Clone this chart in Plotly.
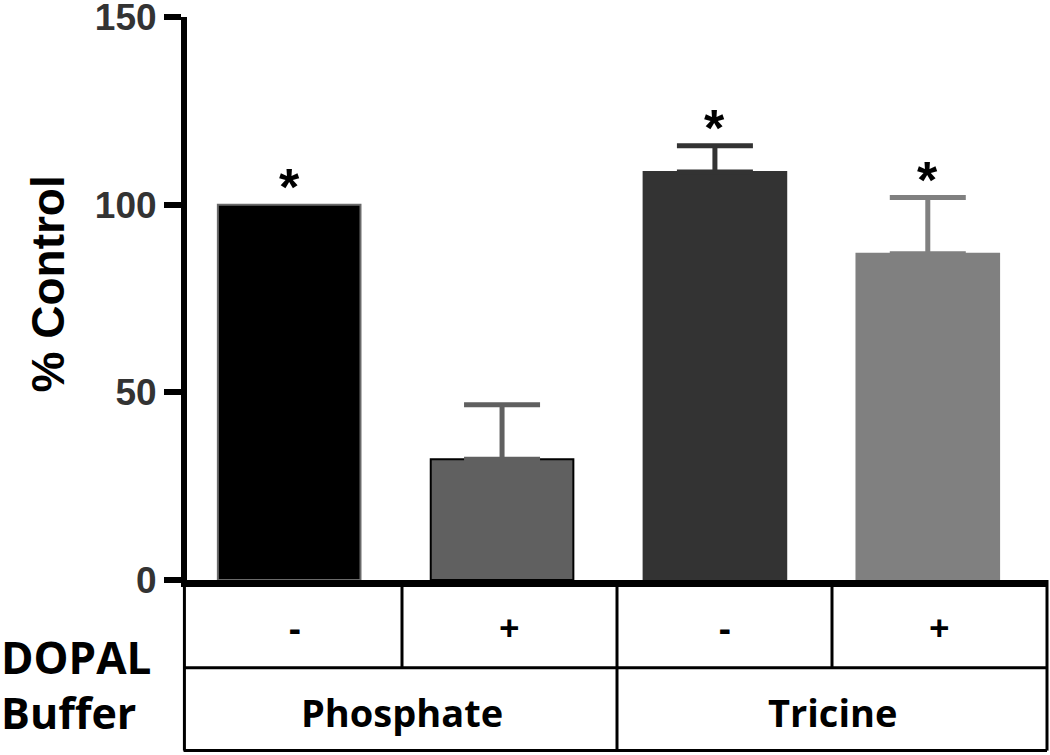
import plotly.graph_objects as go

# ---- data ----
conditions = ["Phosphate -", "Phosphate +", "Tricine -", "Tricine +"]
values = [100, 32.2, 108.7, 86.9]
errors = [0, 14.5, 7.0, 15.0]
significant = [True, False, True, True]
dopal_labels = ["-", "+", "-", "+"]
buffer_labels = ["Phosphate", "Tricine"]
y_ticks = [0, 50, 100, 150]

fill_colors = ["#000000", "#606060", "#333333", "#808080"]
line_colors = ["#6a6a6a", "#000000", "#333333", "#808080"]

AX = "Liberation Sans, Arial, sans-serif"
TB = "Open Sans, sans-serif"

fig = go.Figure()
for i, (c, v, e) in enumerate(zip(conditions, values, errors)):
    fig.add_trace(go.Bar(
        x=[i], y=[v], name=c, width=0.67,
        marker=dict(color=fill_colors[i], line=dict(color=line_colors[i], width=2)),
        error_y=dict(type="data", array=[e], arrayminus=[0], symmetric=False,
                     color=fill_colors[i] if i != 0 else "#606060",
                     thickness=5, width=38, visible=e > 0),
        showlegend=False,
    ))

annotations = []
for i, (v, e, s) in enumerate(zip(values, errors, significant)):
    if s:
        annotations.append(dict(x=i, y=v + e, xref="x", yref="y", text="<b>*</b>",
                                showarrow=False, yanchor="bottom", yshift=-13,
                                font=dict(family=AX, size=52, color="black")))

# y-axis title
annotations.append(dict(x=-0.1616, y=0.525, xref="paper", yref="paper",
                        xanchor="center", yanchor="middle", textangle=-90,
                        text="<b>% Control</b>", showarrow=False,
                        font=dict(family=AX, size=46, color="black")))

# table text
cell_w = 1 / len(dopal_labels)
row1_y = -0.085
row2_y = -0.234
for i, lab in enumerate(dopal_labels):
    annotations.append(dict(x=(i + 0.5) * cell_w, y=row1_y, xref="paper", yref="paper",
                            xanchor="center", yanchor="middle",
                            text="<b>%s</b>" % lab, showarrow=False,
                            font=dict(family=TB, size=36, color="black")))
for j, lab in enumerate(buffer_labels):
    annotations.append(dict(x=(j + 0.5) * 0.5, y=row2_y, xref="paper", yref="paper",
                            xanchor="center", yanchor="middle",
                            text="<b>%s</b>" % lab, showarrow=False,
                            font=dict(family=TB, size=38, color="black")))
annotations.append(dict(x=-0.219, y=-0.1365, xref="paper", yref="paper",
                        xanchor="left", yanchor="middle",
                        text="<b>DOPAL</b>", showarrow=False,
                        font=dict(family=TB, size=44, color="black")))
annotations.append(dict(x=-0.219, y=-0.236, xref="paper", yref="paper",
                        xanchor="left", yanchor="middle",
                        text="<b>Buffer</b>", showarrow=False,
                        font=dict(family=TB, size=43, color="black")))

# table lines
y_mid = -0.156
y_bot = -0.303
shapes = []
lw = 3
shapes.append(dict(type="line", xref="paper", yref="paper", x0=-0.004, x1=1, y0=y_mid, y1=y_mid,
                   line=dict(color="black", width=lw)))
shapes.append(dict(type="line", xref="paper", yref="paper", x0=-0.004, x1=1, y0=y_bot, y1=y_bot,
                   line=dict(color="black", width=lw)))
for xp in [-0.003, 0.5, 1.0]:
    shapes.append(dict(type="line", xref="paper", yref="paper", x0=xp, x1=xp, y0=0, y1=y_bot,
                       line=dict(color="black", width=lw)))
for xp in [0.25, 0.75]:
    shapes.append(dict(type="line", xref="paper", yref="paper", x0=xp, x1=xp, y0=0, y1=y_mid,
                       line=dict(color="black", width=lw)))

fig.update_layout(
    width=1050, height=755,
    margin=dict(l=187, r=3, t=17, b=175),
    paper_bgcolor="white", plot_bgcolor="white",
    barmode="overlay",
    annotations=annotations, shapes=shapes,
    xaxis=dict(range=[-0.48, 3.56], showticklabels=False, ticks="", showgrid=False,
               zeroline=False, showline=True, linecolor="black", linewidth=7,
               automargin=False),
    yaxis=dict(range=[0, 150], tickvals=y_ticks, ticks="outside", ticklen=17, tickwidth=6,
               tickcolor="black", showgrid=False, zeroline=False, showline=True,
               linecolor="black", linewidth=6, automargin=False,
               ticklabeloverflow="allow",
               tickfont=dict(family=AX, size=37, color="#333333", weight="bold")),
)

fig.write_html("out.html",
               config={"displayModeBar": False},
               post_script="document.body.style.margin='0';document.body.style.overflow='hidden';")
